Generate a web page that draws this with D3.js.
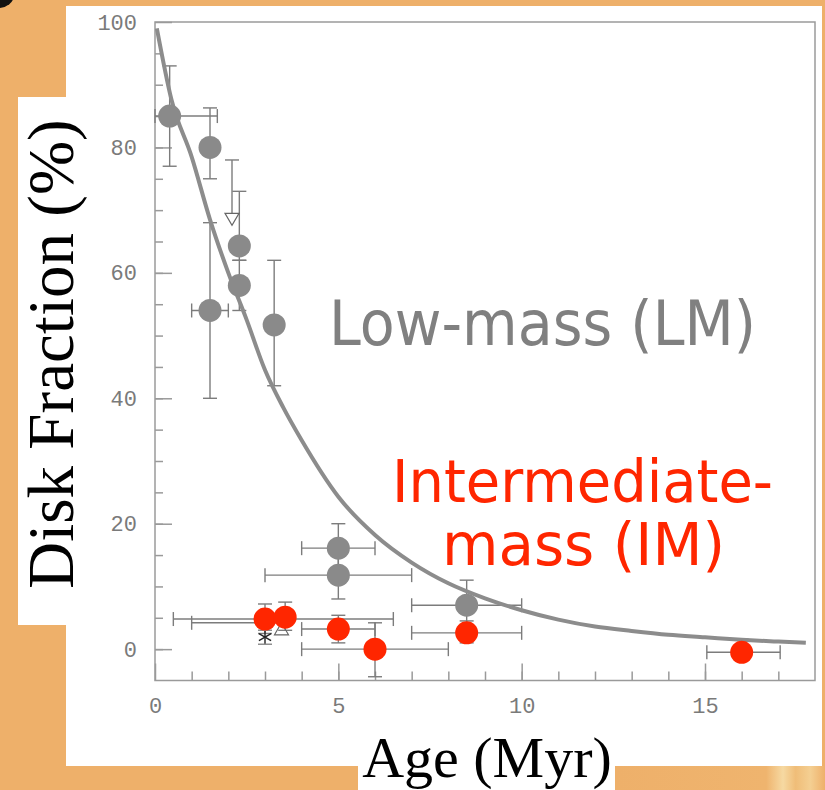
<!DOCTYPE html>
<html>
<head>
<meta charset="utf-8">
<script src="https://cdn.jsdelivr.net/npm/d3@7"></script>
<style>
  body { margin: 0; background: #eeb06a; }
  svg { display: block; }
</style>
</head>
<body>
<svg id="chart" width="825" height="790"></svg>
<script>
// low-mass points (gray)
var lmAge    = [0.4, 1.5, 2.3, 2.3, 1.5, 3.25, 5.0, 5.0, 8.5];
var lmFrac   = [85, 80, 64.3, 58, 54, 51.7, 16.1, 11.8, 7.0];
var lmFracLo = [77, 75, 62, 54, 40, 42, 12, 8, 3];
var lmFracHi = [93, 86.3, 73, 62, 68, 62, 20, 16, 11];
var lmAgeLo  = [0.0, null, null, null, 1.0, null, 4.0, 3.0, 7.0];
var lmAgeHi  = [1.7, null, null, null, 2.0, null, 6.0, 7.0, 10.0];

// intermediate-mass points (red)
var imAge    = [3.0, 3.55, 5.0, 6.0, 8.5, 16.0];
var imFrac   = [4.8, 5.1, 3.2, 0.0, 2.6, -0.5];
var imFracLo = [2.5, 3.0, 1.0, -4.4, 1.0, -1.5];
var imFracHi = [7.2, 7.5, 5.4, 4.2, 4.5, 1.6];
var imAgeLo  = [0.5, null, 4.0, 4.0, 7.0, 15.05];
var imAgeHi  = [6.5, null, 6.0, 8.0, 10.0, 17.05];

// limits / other symbols
var limAge    = [2.1, 3.45];
var limFrac   = [69.5, 4.2];
var limFracHi = [78, null];
var limAgeLo  = [null, 1.0];
var limDir    = ["down", "up"];
var starAge = [3.0];
var starFrac = [1.9];

// fitted decay curve
var fitAge  = [0.05, 0.45, 1, 1.5, 2, 2.5, 3, 3.5, 4, 5, 6, 7, 8, 9, 10, 11, 12, 13, 14, 15, 16, 17, 17.75];
var fitFrac = [99, 87.6, 78.5, 68.5, 60, 52.5, 44.5, 38.5, 33.3, 24.3, 18.2, 13.8, 10.5, 8.1, 6.2, 4.7, 3.6, 2.9, 2.3, 1.9, 1.5, 1.2, 1.0];

var yMajor = [0, 20, 40, 60, 80, 100];
var xMajor = [0, 5, 10, 15];

var svg = d3.select('#chart');

// backgrounds
svg.append('rect').attr('width', 825).attr('height', 790).attr('fill', '#eeb06a');
var grad = svg.append('defs').append('linearGradient').attr('id', 'streak');
grad.append('stop').attr('offset', '0').attr('stop-color', '#eeb06a');
grad.append('stop').attr('offset', '0.72').attr('stop-color', '#efb46e');
grad.append('stop').attr('offset', '0.8').attr('stop-color', '#f6d9a2');
grad.append('stop').attr('offset', '0.86').attr('stop-color', '#f0bd78');
grad.append('stop').attr('offset', '0.93').attr('stop-color', '#f4cf92');
grad.append('stop').attr('offset', '1').attr('stop-color', '#eeb06a');
svg.append('rect').attr('x', 615).attr('y', 766).attr('width', 210).attr('height', 24).attr('fill', 'url(#streak)');
svg.append('ellipse').attr('cx', -2).attr('cy', -5).attr('rx', 16).attr('ry', 13).attr('fill', '#111');

svg.append('rect').attr('x', 66).attr('y', 6).attr('width', 756).attr('height', 760).attr('fill', '#fff');
svg.append('rect').attr('x', 18).attr('y', 97).attr('width', 60).attr('height', 528).attr('fill', '#fff');
svg.append('rect').attr('x', 358).attr('y', 738).attr('width', 257).attr('height', 52).attr('fill', '#fff');

var x = d3.scaleLinear().domain([0, 18]).range([155, 815]);
var y = d3.scaleLinear().domain([-5, 100]).range([680.5, 22]);

var axisColor = '#9a9a9a';
var tickFont = '"Liberation Mono", monospace';

// minor ticks
svg.append('g').attr('transform', 'translate(155,0)')
    .call(d3.axisLeft(y).tickValues(d3.range(0, 100, 5)).tickSizeInner(-8).tickSizeOuter(0).tickFormat(''))
    .call(function(g){ g.select('.domain').remove(); });
svg.append('g').attr('transform', 'translate(0,680.5)')
    .call(d3.axisBottom(x).tickValues(d3.range(1, 18, 1)).tickSizeInner(-9).tickSizeOuter(0).tickFormat(''))
    .call(function(g){ g.select('.domain').remove(); });

// major ticks + labels
var yAxis = svg.append('g').attr('transform', 'translate(155,0)')
    .call(d3.axisLeft(y).tickValues(yMajor).tickSizeInner(-17).tickSizeOuter(0).tickPadding(18));
var xAxis = svg.append('g').attr('transform', 'translate(0,680.5)')
    .call(d3.axisBottom(x).tickValues(xMajor).tickSizeInner(-17).tickSizeOuter(0).tickPadding(17));

svg.selectAll('.tick line').attr('stroke', axisColor).attr('stroke-width', 1.5);
svg.selectAll('.domain').remove();
svg.selectAll('.tick text')
    .attr('font-family', tickFont).attr('font-size', 22).attr('fill', '#7a7a7a');

// frame
svg.append('rect').attr('x', x(0)).attr('y', y(100))
    .attr('width', x(18) - x(0)).attr('height', y(-5) - y(100))
    .attr('fill', 'none').attr('stroke', axisColor).attr('stroke-width', 1.5);

// error bars
var barColor = '#7c7c7c';
var cap = 7;
var bars = svg.append('g').attr('stroke', barColor).attr('stroke-width', 1.4).attr('fill', 'none');

function drawBars(ages, fracs, lo, hi, aLo, aHi) {
    ages.forEach(function(a, i) {
        var cx = x(a), cy = y(fracs[i]);
        if (lo[i] != null && hi[i] != null) {
            bars.append('line').attr('x1', cx).attr('x2', cx).attr('y1', y(lo[i])).attr('y2', y(hi[i]));
            bars.append('line').attr('x1', cx - cap).attr('x2', cx + cap).attr('y1', y(lo[i])).attr('y2', y(lo[i]));
            bars.append('line').attr('x1', cx - cap).attr('x2', cx + cap).attr('y1', y(hi[i])).attr('y2', y(hi[i]));
        }
        if (aLo[i] != null && aHi[i] != null) {
            bars.append('line').attr('x1', x(aLo[i])).attr('x2', x(aHi[i])).attr('y1', cy).attr('y2', cy);
            bars.append('line').attr('x1', x(aLo[i])).attr('x2', x(aLo[i])).attr('y1', cy - cap).attr('y2', cy + cap);
            bars.append('line').attr('x1', x(aHi[i])).attr('x2', x(aHi[i])).attr('y1', cy - cap).attr('y2', cy + cap);
        }
    });
}

drawBars(lmAge, lmFrac, lmFracLo, lmFracHi, lmAgeLo, lmAgeHi);
drawBars(imAge, imFrac, imFracLo, imFracHi, imAgeLo, imAgeHi);

// limit triangles
limAge.forEach(function(a, i) {
    var cx = x(a), cy = y(limFrac[i]);
    if (limFracHi[i] != null) {
        bars.append('line').attr('x1', cx).attr('x2', cx).attr('y1', cy).attr('y2', y(limFracHi[i]));
        bars.append('line').attr('x1', cx - cap).attr('x2', cx + cap).attr('y1', y(limFracHi[i])).attr('y2', y(limFracHi[i]));
    }
    if (limAgeLo[i] != null) {
        bars.append('line').attr('x1', x(limAgeLo[i])).attr('x2', cx).attr('y1', cy).attr('y2', cy);
        bars.append('line').attr('x1', x(limAgeLo[i])).attr('x2', x(limAgeLo[i])).attr('y1', cy - cap).attr('y2', cy + cap);
    }
    var base = limDir[i] == 'down' ? cy : cy + 12;
    var apex = limDir[i] == 'down' ? cy + 12 : cy;
    bars.append('path')
        .attr('d', 'M' + (cx - 7) + ',' + base + 'L' + (cx + 7) + ',' + base + 'L' + cx + ',' + apex + 'Z')
        .attr('stroke', '#666').attr('stroke-width', 1.2);
});

// asterisk
starAge.forEach(function(a, i) {
    var cx = x(a), cy = y(starFrac[i]);
    var g = svg.append('g').attr('stroke', '#222').attr('stroke-width', 1.4);
    [0, 60, 120].forEach(function(ang) {
        var r = ang * Math.PI / 180;
        g.append('line').attr('x1', cx - 7 * Math.sin(r)).attr('y1', cy - 7 * Math.cos(r))
            .attr('x2', cx + 7 * Math.sin(r)).attr('y2', cy + 7 * Math.cos(r));
    });
    g.append('line').attr('x1', cx - 7).attr('x2', cx + 7).attr('y1', cy - 7).attr('y2', cy - 7).attr('stroke', '#888');
    g.append('line').attr('x1', cx - 7).attr('x2', cx + 7).attr('y1', cy + 7).attr('y2', cy + 7).attr('stroke', '#888');
});

// fit curve
var line = d3.line()
    .x(function(d, i) { return x(fitAge[i]); })
    .y(function(d, i) { return y(fitFrac[i]); })
    .curve(d3.curveMonotoneX);
svg.append('path').datum(fitAge).attr('d', line)
    .attr('fill', 'none').attr('stroke', '#8c8c8c').attr('stroke-width', 4);

// points
svg.append('g').selectAll('circle').data(lmAge).enter().append('circle')
    .attr('cx', function(d) { return x(d); })
    .attr('cy', function(d, i) { return y(lmFrac[i]); })
    .attr('r', 11.5).attr('fill', '#8a8a8a');

svg.append('g').selectAll('circle').data(imAge).enter().append('circle')
    .attr('cx', function(d) { return x(d); })
    .attr('cy', function(d, i) { return y(imFrac[i]); })
    .attr('r', 11.5).attr('fill', '#ff2600');

// annotations
svg.append('text').attr('x', 329).attr('y', 345)
    .attr('font-family', '"DejaVu Sans", sans-serif').attr('font-size', 62)
    .attr('textLength', 427).attr('lengthAdjust', 'spacingAndGlyphs')
    .attr('fill', '#808080').text('Low-mass (LM)');
svg.append('text').attr('x', 392).attr('y', 502)
    .attr('font-family', '"DejaVu Sans", sans-serif').attr('font-size', 59)
    .attr('textLength', 381).attr('lengthAdjust', 'spacingAndGlyphs')
    .attr('fill', '#ff2600').text('Intermediate-');
svg.append('text').attr('x', 442).attr('y', 565)
    .attr('font-family', '"DejaVu Sans", sans-serif').attr('font-size', 59)
    .attr('textLength', 283).attr('lengthAdjust', 'spacingAndGlyphs')
    .attr('fill', '#ff2600').text('mass (IM)');

// axis titles
svg.append('text').attr('transform', 'translate(73,354) rotate(-90)')
    .attr('text-anchor', 'middle')
    .attr('font-family', '"Liberation Serif", serif').attr('font-size', 65)
    .attr('fill', '#000').text('Disk Fraction (%)');
svg.append('text').attr('x', 487).attr('y', 777)
    .attr('text-anchor', 'middle')
    .attr('font-family', '"Liberation Serif", serif').attr('font-size', 58)
    .attr('fill', '#000').text('Age (Myr)');
</script>
</body>
</html>
